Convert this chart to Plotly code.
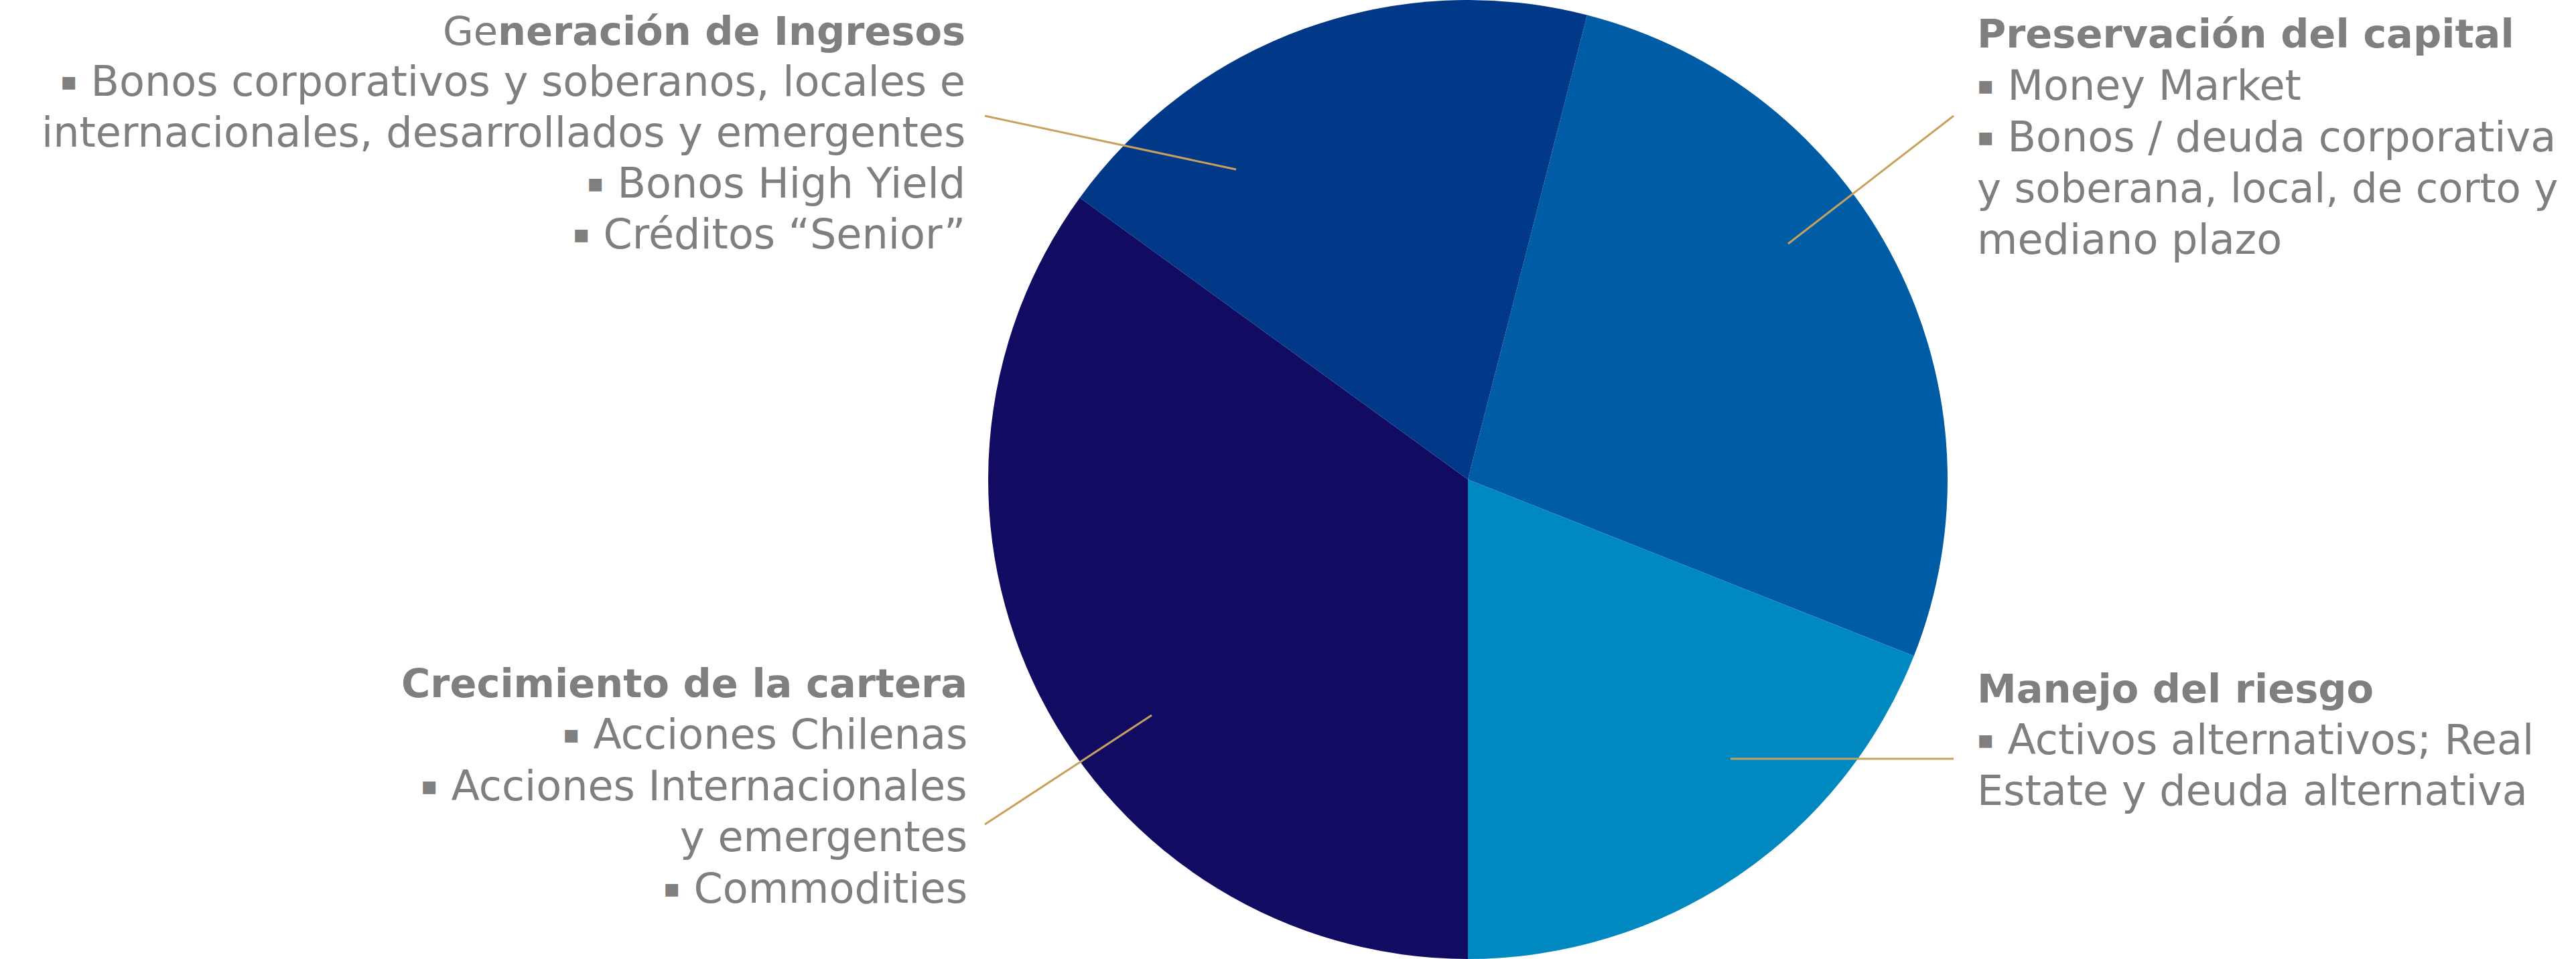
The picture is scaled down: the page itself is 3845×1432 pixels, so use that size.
import plotly.graph_objects as go

W, H = 3845, 1432

# --- data ---
segments = ["Preservación del capital", "Manejo del riesgo",
            "Crecimiento de la cartera", "Generación de Ingresos"]
shares = [27, 19, 35, 19]
colors = ["#005DA5", "#0088C0", "#110C62", "#013888"]

BUL = '<span style="font-size:38px;baseline-shift:9px">▪</span> '

gen_lines = ["Ge<b>neración de Ingresos</b>",
             BUL + "Bonos corporativos y soberanos, locales e",
             "internacionales, desarrollados y emergentes",
             BUL + "Bonos High Yield",
             BUL + "Créditos “Senior”"]
pres_lines = ["<b>Preservación del capital</b>",
              BUL + "Money Market",
              BUL + "Bonos / deuda corporativa",
              "y soberana, local, de corto y",
              "mediano plazo"]
crec_lines = ["<b>Crecimiento de la cartera</b>",
              BUL + "Acciones Chilenas",
              BUL + "Acciones Internacionales",
              "y emergentes",
              BUL + "Commodities"]
man_lines = ["<b>Manejo del riesgo</b>",
             BUL + "Activos alternativos; Real",
             "Estate y deuda alternativa"]

FONT = "DejaVu Sans"
FS = 62      # body lines
FSB = 59     # heading lines
TXT = "#7F7F7F"
GOLD = "#C9A15E"

fig = go.Figure()
cx, r = 2191, H / 2
fig.add_trace(go.Pie(
    labels=segments, values=shares, sort=False, direction="clockwise",
    rotation=14.4, marker=dict(colors=colors, line=dict(width=0)),
    textinfo="none", hoverinfo="label+percent", showlegend=False,
    domain=dict(x=[(cx - r) / W, (cx + r) / W], y=[0, 1]),
))

def px(x):
    return x / W

def py(y):
    return 1 - y / H

annotations = []
def block(lines, x, baselines, align, sizes=None):
    for i, (t, b) in enumerate(zip(lines, baselines)):
        fs = FSB if "<b>" in t else FS
        if sizes and i in sizes:
            fs = sizes[i]
        annotations.append(dict(
            text=t, x=px(x), y=py(b - 0.346 * fs), xref="paper", yref="paper",
            xanchor=align, yanchor="middle", showarrow=False, align=align,
            font=dict(family=FONT, size=fs, color=TXT), borderpad=0))

block(gen_lines, 1442, [67, 143, 219, 295, 371], "right")
block(pres_lines, 2950, [71, 149, 226, 302, 379], "left", sizes={3: 61})
block(crec_lines, 1445, [1041, 1118, 1195, 1271, 1348], "right")
block(man_lines, 2950, [1049, 1126, 1202], "left")

shapes = []
for (x0, y0, x1, y1) in [(1470, 173, 1845, 253), (2916, 173, 2669, 364),
                         (2583, 1133, 2916, 1133), (1719, 1068, 1470, 1231)]:
    shapes.append(dict(type="line", xref="paper", yref="paper",
                       x0=px(x0), y0=py(y0), x1=px(x1), y1=py(y1),
                       line=dict(color=GOLD, width=3)))

fig.update_layout(
    width=W, height=H, margin=dict(l=0, r=0, t=0, b=0),
    paper_bgcolor="white", plot_bgcolor="white",
    annotations=annotations, shapes=shapes,
    font=dict(family=FONT),
)

fig.write_html("out.html", include_plotlyjs=True,
               config={"displayModeBar": False},
               post_script=["document.body.style.margin='0px';"])
